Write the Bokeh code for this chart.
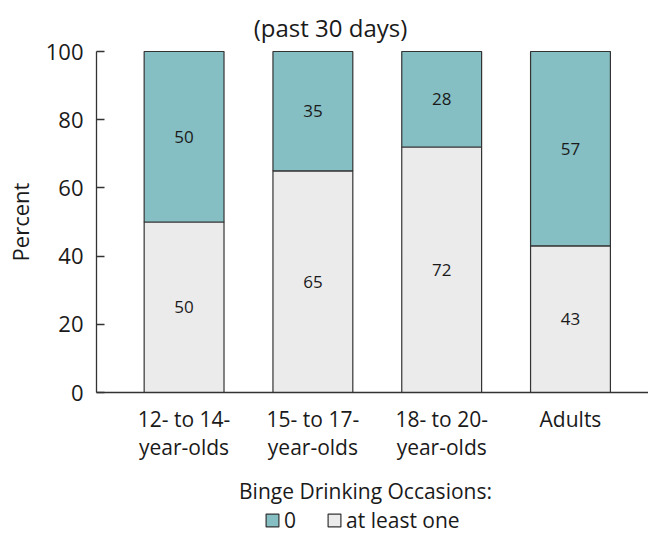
import math
from bokeh.plotting import figure
from bokeh.models import (Range1d, FixedTicker, Legend, LegendItem,
                          ColumnDataSource)
from bokeh.embed import file_html
from bokeh.resources import INLINE
from bokeh.core.properties import value

categories = ["12- to 14-\nyear-olds", "15- to 17-\nyear-olds",
              "18- to 20-\nyear-olds", "Adults"]
at_least_one = [50, 65, 72, 43]
zero = [50, 35, 28, 57]
y_ticks = [0, 20, 40, 60, 80, 100]
title_text = "(past 30 days)"
legend_title = "Binge Drinking Occasions:"
series_names = ["0", "at least one"]

FONT = "Open Sans"
TEAL = "#86BFC3"
GRAY = "#EBEBEB"
EDGE = "#333333"
TXT = "#1a1a1a"

X0 = -0.68   # where the value axis sits (left end of the category axis)

xs = list(range(len(categories)))
src = ColumnDataSource(dict(
    x=xs,
    one=at_least_one,
    top_total=[a + b for a, b in zip(at_least_one, zero)],
    one_mid=[a / 2 for a in at_least_one],
    zero_mid=[a + b / 2 for a, b in zip(at_least_one, zero)],
    one_lbl=[str(v) for v in at_least_one],
    zero_lbl=[str(v) for v in zero],
))

# frame: full 648 x 535 px; 3.41 px per percent, 128.8 px per category
p = figure(width=648, height=535, output_backend="svg", toolbar_location=None,
           x_range=Range1d(-1.42534, 3.60571),
           y_range=Range1d(-41.935, 114.956),
           min_border_left=0, min_border_right=0, min_border_top=0,
           min_border_bottom=0)
p.outline_line_color = None
p.grid.visible = False
p.background_fill_color = "white"

p.text(x=[1.1368], y=[107.0], text=[title_text], text_align="center",
       text_baseline="middle", text_font=value(FONT), text_font_size="24px",
       text_color=TXT)

r_one = p.vbar(x="x", top="one", bottom=0, width=0.62, source=src,
               fill_color=GRAY, line_color=EDGE, line_width=1.2)
r_zero = p.vbar(x="x", top="top_total", bottom="one", width=0.62, source=src,
                fill_color=TEAL, line_color=EDGE, line_width=1.2)

for ycol, tcol in (("one_mid", "one_lbl"), ("zero_mid", "zero_lbl")):
    p.text(x="x", y=ycol, text=tcol, source=src, text_align="center",
           text_baseline="middle", text_font=value(FONT),
           text_font_size="17px", text_color=TXT)

# value axis, drawn at x = X0, line only from 0 to 100
ya = p.yaxis[0]
ya.fixed_location = X0
ya.bounds = (0, 100)
ya.ticker = FixedTicker(ticks=y_ticks)
ya.major_label_text_font = FONT
ya.major_label_text_font_size = "22px"
ya.major_label_text_color = TXT
ya.major_label_standoff = 13
ya.major_tick_in = 8
ya.major_tick_out = 0
ya.minor_tick_line_color = None
ya.axis_line_color = EDGE
ya.major_tick_line_color = EDGE
ya.axis_line_width = 1.3
ya.major_tick_line_width = 1.3

p.text(x=[X0 - 0.594], y=[50], text=["Percent"], angle=math.pi / 2,
       text_align="center", text_baseline="middle", text_font=value(FONT),
       text_font_size="22px", text_color=TXT)

# category axis, drawn at y = 0
xa = p.xaxis[0]
xa.fixed_location = 0
xa.bounds = (X0, 3.60571)
xa.ticker = FixedTicker(ticks=xs)
xa.major_label_overrides = {i: c for i, c in zip(xs, categories)}
xa.major_label_text_font = FONT
xa.major_label_text_font_size = "21px"
xa.major_label_text_color = TXT
xa.major_label_text_line_height = 1.0
xa.major_label_standoff = 12
xa.major_tick_in = 0
xa.major_tick_out = 0
xa.minor_tick_line_color = None
xa.axis_line_color = EDGE
xa.axis_line_width = 1.3

# legend title
p.text(x=[1.4085], y=[-28.8], text=[legend_title], text_align="center",
       text_baseline="middle", text_font=value(FONT), text_font_size="21px",
       text_color=TXT)

legend = Legend(items=[LegendItem(label=series_names[0], renderers=[r_zero]),
                       LegendItem(label=series_names[1], renderers=[r_one])],
                orientation="horizontal", location=(264, 1),
                label_text_font=FONT, label_text_font_size="21px",
                label_text_color=TXT, label_standoff=4,
                label_width=5, label_height=5,
                glyph_width=16, glyph_height=16, spacing=30,
                border_line_color=None, background_fill_alpha=0,
                padding=0, margin=0)
p.add_layout(legend, "center")

open("out.html", "w").write(file_html(p, INLINE))
